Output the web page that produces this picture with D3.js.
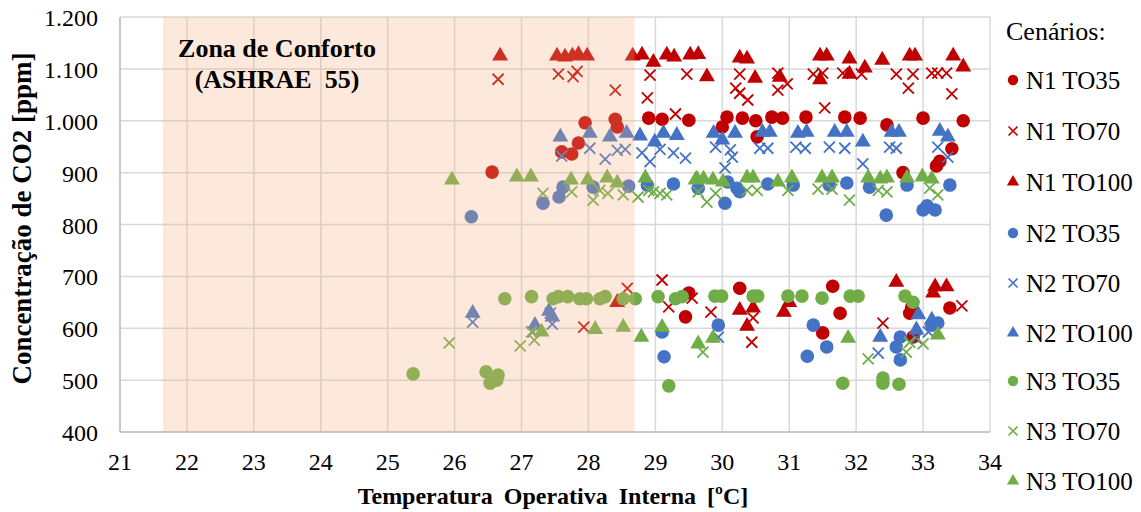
<!DOCTYPE html>
<html>
<head>
<meta charset="utf-8">
<script src="https://cdn.jsdelivr.net/npm/d3@7"></script>
<style>
  body { margin: 0; background: #fff; }
  svg text { font-family: "Liberation Serif", "Times New Roman", Times, serif; fill: #000; }
</style>
</head>
<body>
<svg id="chart" width="1141" height="512" font-family="Liberation Serif, Times New Roman, serif"></svg>
<script>
// each scenario: [temperature ºC, CO2 ppm]
const n1to35 = [
  [26.56, 901], [27.6, 940], [27.75, 936], [27.85, 957], [27.95, 996], [28.4, 1003], [28.43, 988],
  [28.9, 1005], [29.1, 1003], [29.5, 1001], [30.0, 988], [30.07, 1007], [30.3, 1005], [30.5, 1000],
  [30.52, 969], [30.74, 1007], [30.9, 1005], [31.25, 1007], [31.83, 1007], [32.06, 1005], [32.46, 992],
  [33.0, 1005], [33.6, 1000], [33.43, 946], [33.25, 922], [33.2, 913], [32.7, 900],
  [29.45, 622], [29.5, 668], [30.26, 677], [31.65, 681], [31.76, 629], [31.5, 591],
  [32.8, 629], [32.83, 641], [32.85, 583], [33.4, 639]
];
const n1to70 = [
  [26.65, 1080], [27.55, 1090], [27.77, 1085], [27.83, 1095], [28.4, 1059], [28.92, 1088], [28.88, 1044],
  [29.47, 1090], [29.3, 1013], [30.26, 1090], [30.2, 1063], [30.26, 1053], [30.38, 1040], [30.83, 1092],
  [30.83, 1059], [30.97, 1071], [31.36, 1090], [31.5, 1092], [31.53, 1025], [31.8, 1092], [32.08, 1090],
  [32.6, 1090], [32.78, 1063], [32.85, 1090], [33.13, 1092], [33.22, 1092], [33.35, 1092], [33.43, 1052],
  [28.58, 677], [27.93, 602], [29.1, 693], [29.2, 641], [29.55, 658], [29.83, 631], [30.46, 620],
  [30.44, 573], [32.4, 610], [32.9, 581], [33.58, 643]
];
const n1to100 = [
  [26.68, 1125], [27.53, 1125], [27.65, 1123], [27.76, 1125], [27.85, 1128], [27.98, 1125], [28.66, 1125],
  [28.8, 1127], [28.97, 1113], [29.17, 1127], [29.28, 1123], [29.52, 1127], [29.64, 1128], [29.77, 1085],
  [30.26, 1121], [30.37, 1119], [30.49, 1082], [30.86, 1084], [31.46, 1125], [31.56, 1125], [31.46, 1079],
  [31.9, 1119], [31.9, 1090], [32.13, 1102], [32.39, 1117], [32.8, 1125], [32.88, 1125], [33.45, 1125],
  [33.6, 1104],
  [28.43, 650], [30.26, 635], [30.46, 639], [30.37, 604], [30.92, 631], [31.0, 650], [32.6, 689],
  [33.18, 680], [33.15, 668], [33.35, 680]
];
const n2to35 = [
  [26.25, 815], [27.32, 841], [27.56, 853], [27.62, 872], [28.07, 872], [28.6, 874], [28.88, 876],
  [29.27, 878], [29.64, 870], [30.04, 841], [30.08, 882], [30.22, 870], [30.26, 863], [30.68, 878],
  [31.06, 876], [31.6, 876], [31.86, 880], [32.2, 872], [32.45, 818], [32.76, 876], [33.0, 828],
  [33.06, 836], [33.18, 828], [33.4, 876],
  [29.1, 593], [29.13, 545], [29.94, 606], [31.36, 606], [31.27, 546], [31.56, 564], [32.66, 583],
  [32.6, 564], [32.66, 539], [33.22, 610], [33.13, 606]
];
const n2to70 = [
  [27.6, 932], [28.02, 947], [28.25, 926], [28.43, 943], [28.55, 945], [28.8, 938], [28.92, 921],
  [29.07, 945], [29.27, 938], [29.45, 928], [29.9, 949], [30.04, 909], [30.12, 944], [30.15, 930],
  [30.56, 947], [30.68, 947], [31.1, 949], [31.24, 947], [31.6, 949], [31.83, 947], [32.1, 917],
  [32.5, 949], [32.6, 947], [33.22, 949], [33.37, 930],
  [26.27, 612], [27.43, 629], [27.46, 608], [27.17, 593], [29.94, 583], [32.33, 552], [32.9, 581],
  [33.08, 593]
];
const n2to100 = [
  [27.58, 969], [28.02, 976], [28.32, 969], [28.57, 976], [28.77, 971], [28.99, 959], [29.12, 976],
  [29.32, 972], [29.87, 976], [30.0, 963], [30.19, 976], [30.6, 978], [30.71, 978], [31.13, 976],
  [31.26, 978], [31.68, 978], [31.86, 978], [32.1, 959], [32.53, 978], [32.64, 978], [33.25, 980],
  [33.37, 969],
  [26.27, 629], [27.2, 606], [27.41, 633], [27.46, 622], [32.36, 583], [32.93, 626], [32.9, 597],
  [33.13, 616]
];
const n3to35 = [
  [25.38, 512], [26.75, 657], [27.15, 661], [27.47, 657], [27.55, 661], [27.69, 661], [27.87, 657],
  [27.97, 657], [28.17, 657], [28.25, 661], [28.52, 657], [28.7, 657], [29.04, 661], [29.3, 657],
  [29.4, 661], [29.2, 489], [26.47, 516], [26.53, 494], [26.65, 510], [26.63, 500],
  [29.89, 662], [29.99, 662], [30.46, 662], [30.53, 662], [30.98, 662], [31.19, 662], [31.49, 658],
  [31.91, 662], [32.03, 662], [32.73, 662], [32.85, 650], [31.8, 494], [32.4, 504], [32.4, 494],
  [32.64, 492]
];
const n3to70 = [
  [27.32, 860], [27.75, 863], [28.07, 847], [28.17, 866], [28.29, 860], [28.52, 857], [28.74, 853],
  [28.97, 863], [29.17, 857], [28.9, 866], [29.07, 860], [29.64, 863], [29.77, 843], [29.9, 860],
  [30.37, 866], [30.52, 866], [30.98, 866], [31.43, 868], [31.64, 868], [31.9, 847], [32.33, 866],
  [32.46, 863], [33.1, 870], [33.22, 857],
  [25.92, 572], [26.98, 566], [27.19, 577], [27.15, 593], [29.71, 554], [32.18, 541], [32.75, 554],
  [32.8, 573], [33.0, 570]
];
const n3to100 = [
  [25.96, 886], [26.93, 892], [27.14, 892], [27.74, 886], [27.99, 886], [28.28, 890], [28.43, 880],
  [28.85, 890], [29.6, 886], [29.62, 888], [29.72, 888], [29.86, 886], [30.01, 882], [30.37, 890],
  [30.46, 890], [30.83, 882], [31.04, 890], [31.49, 890], [31.64, 890], [32.18, 890], [32.36, 888],
  [32.46, 890], [32.76, 890], [32.99, 892], [33.13, 888],
  [27.3, 593], [28.1, 598], [28.52, 602], [28.79, 583], [29.1, 602], [29.64, 570], [29.86, 581],
  [31.88, 581], [33.22, 587]
];

const seriesNames = ['N1 TO35', 'N1 TO70', 'N1 TO100', 'N2 TO35', 'N2 TO70', 'N2 TO100', 'N3 TO35', 'N3 TO70', 'N3 TO100'];
const seriesData = [n1to35, n1to70, n1to100, n2to35, n2to70, n2to100, n3to35, n3to70, n3to100];
const seriesColors = ['#c00000', '#c00000', '#c00000', '#4472c4', '#4472c4', '#4472c4', '#70ad47', '#70ad47', '#70ad47'];
const seriesShapes = ['circle', 'cross', 'triangle', 'circle', 'cross', 'triangle', 'circle', 'cross', 'triangle'];

const xTicks = d3.range(21, 35);
const yTicks = d3.range(400, 1201, 100);
const comfortZone = [21.64, 28.69];

const svg = d3.select('#chart');
const margin = { left: 120, right: 151, top: 17, bottom: 80 };
const width = 1141, height = 512;

const x = d3.scaleLinear().domain([21, 34]).range([margin.left, width - margin.right]);
const y = d3.scaleLinear().domain([400, 1200]).range([height - margin.bottom, margin.top]);

const fmtY = (d) => d >= 1000 ? d3.format(',')(d).replace(',', '.') : String(d);

// grid
const grid = svg.append('g');
grid.selectAll('.vx').data(xTicks).join('line')
  .attr('x1', (d) => x(d)).attr('x2', (d) => x(d))
  .attr('y1', y(400)).attr('y2', y(1200))
  .attr('stroke', '#d9d9d9').attr('stroke-width', 1.5);
grid.selectAll('.hy').data(yTicks).join('line')
  .attr('y1', (d) => y(d)).attr('y2', (d) => y(d))
  .attr('x1', x(21)).attr('x2', x(34))
  .attr('stroke', '#d9d9d9').attr('stroke-width', 1.5);
// axis lines slightly darker
svg.append('line').attr('x1', x(21)).attr('x2', x(21)).attr('y1', y(400)).attr('y2', y(1200))
  .attr('stroke', '#bfbfbf').attr('stroke-width', 1.5);
svg.append('line').attr('x1', x(21)).attr('x2', x(34)).attr('y1', y(400)).attr('y2', y(400))
  .attr('stroke', '#bfbfbf').attr('stroke-width', 1.5);

// tick labels
svg.append('g').selectAll('text').data(yTicks).join('text')
  .attr('x', 98).attr('y', (d) => y(d) + 9)
  .attr('text-anchor', 'end').attr('font-size', 24)
  .text(fmtY);
svg.append('g').selectAll('text').data(xTicks).join('text')
  .attr('x', (d) => x(d)).attr('y', 470)
  .attr('text-anchor', 'middle').attr('font-size', 24)
  .text((d) => d);

function markerPath(shape, s) {
  if (shape === 'circle') return d3.symbol(d3.symbolCircle, s.circle)();
  if (shape === 'triangle') return d3.symbol(d3.symbolTriangle, s.triangle)();
  const h = s.cross;
  return `M${-h},${-h}L${h},${h}M${-h},${h}L${h},${-h}`;
}
const plotSize = { circle: 145, triangle: 110, cross: 5.5 };
const legendSize = { circle: 85, triangle: 65, cross: 4.5 };

// points
seriesData.forEach((data, i) => {
  const shape = seriesShapes[i];
  const col = seriesColors[i];
  svg.append('g').selectAll('path').data(data).join('path')
    .attr('transform', (d) => `translate(${x(d[0])},${y(d[1])})`)
    .attr('d', markerPath(shape, plotSize))
    .attr('fill', shape === 'cross' ? 'none' : col)
    .attr('stroke', shape === 'cross' ? col : 'none')
    .attr('stroke-width', 1.8);
});

// comfort zone overlay (drawn over the points, as in the original)
svg.append('rect')
  .attr('x', x(comfortZone[0])).attr('width', x(comfortZone[1]) - x(comfortZone[0]))
  .attr('y', y(1200)).attr('height', y(400) - y(1200))
  .attr('fill', '#f4b183').attr('fill-opacity', 0.28);

svg.append('text').attr('x', 277).attr('y', 57).attr('text-anchor', 'middle')
  .attr('font-size', 26).attr('font-weight', 'bold').text('Zona de Conforto');
svg.append('text').attr('x', 277).attr('y', 88).attr('text-anchor', 'middle')
  .attr('font-size', 26).attr('font-weight', 'bold').attr('xml:space', 'preserve').text('(ASHRAE  55)');

// axis titles
svg.append('text').attr('x', 553).attr('y', 504).attr('text-anchor', 'middle')
  .attr('font-size', 24).attr('font-weight', 'bold').attr('word-spacing', 5)
  .text('Temperatura Operativa Interna [ºC]');
svg.append('text').attr('transform', `translate(31,${(y(400) + y(1200)) / 2 - 6}) rotate(-90)`)
  .attr('text-anchor', 'middle').attr('font-size', 27).attr('font-weight', 'bold')
  .text('Concentração de CO2 [ppm]');

// legend
const legend = svg.append('g');
legend.append('text').attr('x', 1006).attr('y', 40).attr('font-size', 26).text('Cenários:');
const legendY = [80, 131, 182, 233, 283, 333, 381, 431, 481];
seriesNames.forEach((name, i) => {
  const shape = seriesShapes[i];
  const col = seriesColors[i];
  legend.append('path')
    .attr('transform', `translate(1013,${legendY[i]})`)
    .attr('d', markerPath(shape, legendSize))
    .attr('fill', shape === 'cross' ? 'none' : col)
    .attr('stroke', shape === 'cross' ? col : 'none')
    .attr('stroke-width', 1.6);
  legend.append('text').attr('x', 1026).attr('y', legendY[i] + 9)
    .attr('font-size', 25).text(name);
});
</script>
</body>
</html>
